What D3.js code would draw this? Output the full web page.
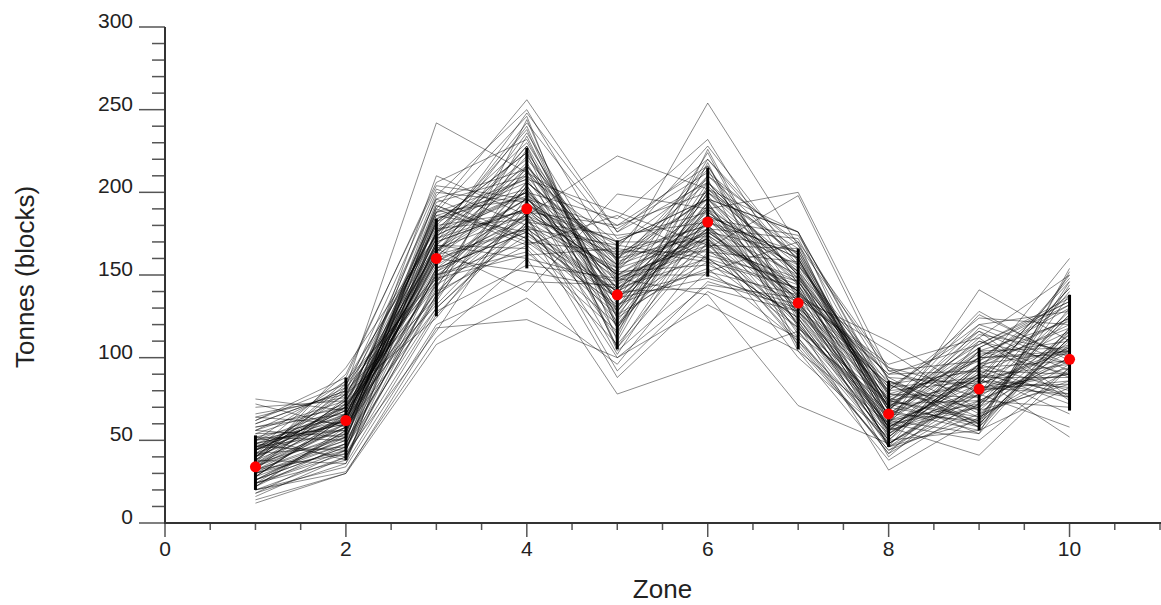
<!DOCTYPE html>
<html>
<head>
<meta charset="utf-8">
<script src="https://cdn.jsdelivr.net/npm/d3@7"></script>
<style>
  html, body { margin: 0; padding: 0; background: #fff; }
  svg { display: block; }
  text { font-family: "Liberation Sans", Arial, Helvetica, sans-serif; fill: #222; }
</style>
</head>
<body>
<svg id="chart" width="1161" height="605"></svg>
<script>
// Zones along the horizontal axis
const zones = [1, 2, 3, 4, 5, 6, 7, 8, 9, 10];

// Simulated tonnages per zone, one row per realization
const realizations = [
  [75, 68, 176, 210, 142, 178, 150, 62, 96, 104],
  [72, 58, 150, 186, 222, 202, 176, 78, 70, 126],
  [56, 82, 242, 212, 160, 196, 134, 58, 88, 96],
  [46, 62, 190, 256, 176, 220, 156, 70, 60, 112],
  [20, 31, 112, 160, 78, 97, 116, 56, 104, 90],
  [38, 74, 166, 140, 199, 190, 200, 92, 76, 140],
  [30, 50, 198, 250, 158, 254, 168, 64, 112, 150],
  [62, 88, 206, 232, 132, 166, 198, 86, 58, 118],
  [26, 46, 130, 180, 88, 140, 112, 48, 82, 78],
  [42, 66, 172, 200, 184, 232, 144, 74, 100, 132],
  [34, 60, 140, 168, 120, 176, 138, 104, 68, 84],
  [50, 56, 182, 224, 150, 150, 128, 52, 92, 160],
  [18, 44, 154, 176, 128, 186, 160, 68, 120, 102],
  [44, 78, 124, 192, 170, 170, 110, 42, 74, 70],
  [36, 52, 188, 246, 110, 204, 150, 82, 88, 146],
  [58, 70, 160, 152, 142, 160, 124, 60, 50, 94],
  [24, 38, 146, 206, 162, 196, 176, 76, 98, 124],
  [40, 84, 178, 184, 100, 144, 136, 46, 110, 88],
  [52, 64, 134, 216, 154, 214, 118, 66, 62, 138],
  [28, 48, 170, 190, 136, 182, 156, 88, 84, 106],
  [66, 76, 196, 172, 126, 158, 142, 54, 94, 76],
  [32, 42, 116, 198, 168, 208, 104, 38, 72, 116],
  [48, 68, 162, 236, 146, 176, 164, 72, 128, 98],
  [22, 56, 150, 164, 116, 192, 132, 62, 54, 154],
  [38, 36, 184, 208, 188, 168, 148, 80, 86, 82],
  [54, 72, 144, 178, 138, 224, 122, 50, 104, 122],
  [30, 60, 168, 228, 104, 152, 170, 94, 66, 110],
  [44, 90, 204, 196, 156, 198, 138, 58, 90, 66],
  [16, 40, 128, 156, 148, 172, 108, 44, 78, 128],
  [46, 54, 174, 242, 172, 188, 152, 70, 116, 92],
  [34, 66, 156, 186, 92, 146, 130, 84, 60, 144],
  [60, 80, 136, 204, 130, 210, 160, 64, 100, 104],
  [26, 46, 192, 170, 164, 180, 116, 48, 80, 86],
  [42, 62, 164, 218, 124, 162, 146, 74, 108, 134],
  [70, 74, 180, 188, 180, 216, 126, 56, 70, 100],
  [20, 34, 120, 146, 144, 176, 140, 90, 92, 72],
  [36, 58, 176, 238, 118, 200, 166, 68, 56, 118],
  [50, 70, 152, 180, 152, 156, 134, 40, 86, 148],
  [24, 44, 186, 202, 134, 190, 120, 60, 118, 96],
  [40, 86, 148, 162, 166, 228, 158, 78, 76, 114],
  [56, 52, 168, 214, 106, 170, 100, 52, 96, 80],
  [28, 64, 200, 194, 150, 184, 174, 86, 64, 130],
  [48, 40, 138, 174, 140, 142, 128, 66, 104, 106],
  [32, 76, 172, 248, 176, 206, 150, 46, 82, 90],
  [64, 60, 158, 184, 122, 194, 114, 72, 58, 152],
  [14, 30, 108, 136, 96, 164, 144, 58, 88, 108],
  [44, 68, 182, 206, 160, 174, 136, 96, 112, 74],
  [38, 82, 146, 226, 128, 202, 162, 62, 72, 126],
  [52, 50, 190, 168, 186, 160, 124, 50, 94, 98],
  [22, 58, 162, 196, 142, 188, 148, 80, 124, 120],
  [34, 72, 132, 188, 112, 218, 106, 44, 66, 86],
  [46, 44, 178, 220, 158, 178, 172, 74, 84, 142],
  [58, 66, 154, 176, 136, 148, 132, 56, 100, 102],
  [26, 54, 194, 210, 170, 196, 152, 88, 60, 112],
  [40, 78, 168, 160, 146, 166, 118, 64, 90, 78],
  [30, 48, 142, 234, 124, 206, 160, 70, 106, 132],
  [50, 62, 184, 200, 102, 184, 140, 48, 78, 94],
  [18, 36, 126, 182, 154, 172, 128, 76, 54, 116],
  [44, 70, 166, 196, 178, 212, 168, 92, 98, 138],
  [62, 84, 150, 170, 132, 154, 110, 54, 82, 84],
  [32, 52, 176, 216, 140, 192, 146, 68, 114, 104],
  [48, 60, 210, 186, 162, 180, 134, 60, 70, 124],
  [24, 42, 136, 244, 118, 200, 156, 84, 92, 90],
  [38, 74, 158, 190, 150, 168, 122, 46, 62, 146],
  [54, 56, 188, 208, 134, 220, 162, 72, 102, 110],
  [28, 66, 162, 178, 168, 160, 142, 66, 86, 76],
  [42, 46, 144, 202, 126, 186, 130, 80, 120, 128],
  [60, 80, 180, 230, 144, 196, 176, 56, 74, 100],
  [36, 64, 168, 166, 108, 174, 112, 42, 96, 118],
  [20, 40, 152, 192, 160, 206, 150, 74, 64, 92],
  [46, 70, 196, 214, 138, 152, 138, 90, 108, 136],
  [32, 58, 130, 182, 174, 182, 164, 62, 80, 106],
  [50, 86, 174, 198, 114, 226, 124, 50, 56, 82],
  [26, 52, 160, 222, 148, 170, 146, 78, 94, 120],
  [40, 62, 186, 176, 130, 194, 120, 58, 78, 150],
  [56, 74, 148, 206, 164, 164, 158, 70, 110, 96],
  [30, 44, 170, 240, 120, 190, 134, 86, 68, 114],
  [44, 68, 140, 188, 152, 210, 170, 54, 88, 88],
  [34, 54, 192, 172, 136, 178, 126, 66, 100, 130],
  [64, 78, 164, 212, 180, 200, 148, 46, 72, 104],
  [22, 48, 154, 194, 142, 174, 140, 82, 116, 76],
  [48, 60, 182, 224, 106, 186, 160, 60, 84, 142],
  [36, 70, 146, 184, 166, 158, 118, 74, 62, 108],
  [52, 38, 176, 200, 128, 202, 152, 52, 96, 124],
  [28, 64, 158, 216, 156, 216, 136, 94, 80, 90],
  [42, 80, 202, 180, 140, 168, 166, 64, 106, 134],
  [32, 50, 138, 204, 118, 184, 128, 72, 74, 98],
  [46, 66, 172, 190, 170, 196, 144, 56, 90, 116],
  [24, 56, 164, 228, 134, 178, 132, 84, 58, 112],
  [40, 72, 188, 196, 154, 190, 154, 68, 126, 100],
  [38, 60, 166, 186, 148, 138, 71, 48, 84, 104],
  [34, 58, 160, 178, 140, 172, 120, 32, 64, 96],
  [44, 62, 170, 190, 150, 180, 130, 58, 41, 94],
  [40, 64, 164, 196, 146, 186, 140, 70, 88, 52],
  [36, 94, 174, 200, 156, 176, 136, 110, 78, 58],
  [12, 30, 118, 123, 100, 132, 104, 60, 141, 110]
];

// Observed tonnage per zone (red markers)
const observed = [34, 62, 160, 190, 138, 182, 133, 66, 81, 99];

// Spread of the realizations per zone (black bars)
const barLow  = [20, 38, 125, 154, 105, 149, 105, 46, 56, 68];
const barHigh = [53, 88, 184, 227, 171, 215, 166, 86, 106, 138];

// Axis ticks
const xMajorTicks = [0, 2, 4, 6, 8, 10];
const xMinorTicks = [0.5, 1, 1.5, 2.5, 3, 3.5, 4.5, 5, 5.5, 6.5, 7, 7.5, 8.5, 9, 9.5, 10.5, 11];
const yMajorTicks = [0, 50, 100, 150, 200, 250, 300];
const yMinorTicks = [10, 20, 30, 40, 60, 70, 80, 90, 110, 120, 130, 140,
                     160, 170, 180, 190, 210, 220, 230, 240, 260, 270, 280, 290];

const svg = d3.select("#chart");

const x = d3.scaleLinear().domain([0, 11]).range([165, 1160]);
const y = d3.scaleLinear().domain([0, 300]).range([523, 27]);

// Realization traces
const line = d3.line()
  .x((d, i) => x(zones[i]))
  .y(d => y(d));

svg.append("g")
  .attr("fill", "none")
  .attr("stroke", "#000")
  .attr("stroke-opacity", 0.45)
  .attr("stroke-width", 1)
  .attr("stroke-linejoin", "miter")
  .selectAll("path")
  .data(realizations)
  .join("path")
  .attr("d", line);

// Spread bars
svg.append("g")
  .selectAll("line")
  .data(zones)
  .join("line")
  .attr("x1", d => x(d))
  .attr("x2", d => x(d))
  .attr("y1", (d, i) => y(barLow[i]))
  .attr("y2", (d, i) => y(barHigh[i]))
  .attr("stroke", "#000")
  .attr("stroke-width", 3);

// Observed markers
svg.append("g")
  .selectAll("circle")
  .data(zones)
  .join("circle")
  .attr("cx", d => x(d))
  .attr("cy", (d, i) => y(observed[i]))
  .attr("r", 5.5)
  .attr("fill", "#ff0000");

// Y axis
const yAxis = svg.append("g");
yAxis.selectAll("line.major")
  .data(yMajorTicks)
  .join("line")
  .attr("class", "major")
  .attr("x1", 139).attr("x2", 165)
  .attr("y1", d => y(d)).attr("y2", d => y(d))
  .attr("stroke", "#555").attr("stroke-width", 1.5);
yAxis.selectAll("line.minor")
  .data(yMinorTicks)
  .join("line")
  .attr("class", "minor")
  .attr("x1", 152).attr("x2", 165)
  .attr("y1", d => y(d)).attr("y2", d => y(d))
  .attr("stroke", "#555").attr("stroke-width", 1.5);
yAxis.selectAll("text")
  .data(yMajorTicks)
  .join("text")
  .attr("x", 133)
  .attr("y", d => y(d) + 1)
  .attr("text-anchor", "end")
  .attr("font-size", 21)
  .text(d => d);
yAxis.append("line")
  .attr("x1", 165).attr("x2", 165)
  .attr("y1", y(300)).attr("y2", y(0) + 1)
  .attr("stroke", "#333").attr("stroke-width", 2);

// X axis
const xAxis = svg.append("g");
xAxis.selectAll("line.major")
  .data(xMajorTicks)
  .join("line")
  .attr("class", "major")
  .attr("x1", d => x(d)).attr("x2", d => x(d))
  .attr("y1", 523).attr("y2", 537)
  .attr("stroke", "#555").attr("stroke-width", 1.5);
xAxis.selectAll("line.minor")
  .data(xMinorTicks)
  .join("line")
  .attr("class", "minor")
  .attr("x1", d => x(d)).attr("x2", d => x(d))
  .attr("y1", 523).attr("y2", 530)
  .attr("stroke", "#555").attr("stroke-width", 1.5);
xAxis.selectAll("text")
  .data(xMajorTicks)
  .join("text")
  .attr("x", d => x(d))
  .attr("y", 556)
  .attr("text-anchor", "middle")
  .attr("font-size", 21)
  .text(d => d);
xAxis.append("line")
  .attr("x1", 164).attr("x2", 1161)
  .attr("y1", 523).attr("y2", 523)
  .attr("stroke", "#333").attr("stroke-width", 2);

// Axis titles
svg.append("text")
  .attr("x", (x(0) + x(11)) / 2)
  .attr("y", 598)
  .attr("text-anchor", "middle")
  .attr("font-size", 26)
  .text("Zone");

svg.append("text")
  .attr("transform", "translate(34,277) rotate(-90)")
  .attr("text-anchor", "middle")
  .attr("font-size", 26)
  .text("Tonnes (blocks)");
</script>
</body>
</html>
